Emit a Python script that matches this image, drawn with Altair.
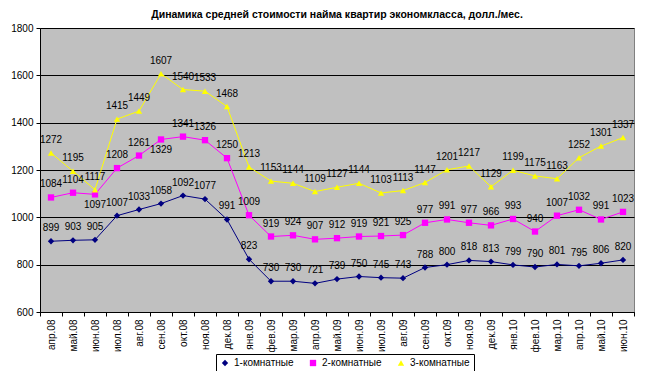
import altair as alt
import pandas as pd

months = ["апр.08", "май.08", "июн.08", "июл.08", "авг.08", "сен.08", "окт.08", "ноя.08", "дек.08",
          "янв.09", "фев.09", "мар.09", "апр.09", "май.09", "июн.09", "июл.09", "авг.09", "сен.09",
          "окт.09", "ноя.09", "дек.09", "янв.10", "фев.10", "мар.10", "апр.10", "май.10", "июн.10"]
one_room = [899, 903, 905, 1007, 1033, 1058, 1092, 1077, 991, 823, 730, 730, 721, 739, 750, 745, 743,
            788, 800, 818, 813, 799, 790, 801, 795, 806, 820]
two_room = [1084, 1104, 1097, 1208, 1261, 1329, 1341, 1326, 1250, 1009, 919, 924, 907, 912, 919, 921,
            925, 977, 991, 977, 966, 993, 940, 1007, 1032, 991, 1023]
three_room = [1272, 1195, 1117, 1415, 1449, 1607, 1540, 1533, 1468, 1213, 1153, 1144, 1109, 1127, 1144,
              1103, 1113, 1147, 1201, 1217, 1129, 1199, 1175, 1163, 1252, 1301, 1337]
series_names = ["1-комнатные", "2-комнатные", "3-комнатные"]
y_ticks = [600, 800, 1000, 1200, 1400, 1600, 1800]
# data labels that the reference shows beneath their point
labels_below = [("2-комнатные", "июн.08"), ("2-комнатные", "сен.08")]

rows = []
for name, vals in zip(series_names, [one_room, two_room, three_room]):
    for m, v in zip(months, vals):
        rows.append({"month": m, "value": v, "series": name,
                     "below": (name, m) in labels_below})
df = pd.DataFrame(rows)

FONT = "Liberation Sans"
COLORS = ["#000080", "#FF00FF", "#FFFF00"]

x_enc = alt.X("month:N", sort=months, title=None,
              scale=alt.Scale(type="band", paddingInner=0, paddingOuter=0),
              bandPosition=0.5,
              axis=alt.Axis(labelAngle=270, tickBand="extent", grid=False, domainColor="black",
                            tickColor="black", labelColor="black", labelFontSize=10,
                            labelFont=FONT, labelPadding=3, tickSize=4))
y_enc = alt.Y("value:Q", title=None,
              scale=alt.Scale(domain=[600, 1800], nice=False, zero=False),
              axis=alt.Axis(values=y_ticks, format="d", grid=True, gridColor="black", gridWidth=1,
                            domainColor="black", tickColor="black", labelColor="black",
                            labelFontSize=10, labelFont=FONT, tickSize=4, labelPadding=3))
color_enc = alt.Color("series:N", sort=series_names, title=None,
                      scale=alt.Scale(domain=series_names, range=COLORS))
shape_enc = alt.Shape("series:N", sort=series_names, title=None,
                      scale=alt.Scale(domain=series_names, range=["diamond", "square", "triangle-up"]))

base = alt.Chart(df).encode(x=x_enc, y=y_enc)

lines = base.mark_line(strokeWidth=1).encode(color=color_enc)
points = base.mark_point(filled=True, opacity=1, size=40).encode(color=color_enc, shape=shape_enc)
labels_up = base.transform_filter("!datum.below").mark_text(
    dy=-13, fontSize=10, font=FONT, color="black").encode(text=alt.Text("value:Q"))
labels_down = base.transform_filter("datum.below").mark_text(
    dy=11, fontSize=10, font=FONT, color="black").encode(text=alt.Text("value:Q"))

chart = alt.layer(lines, points, labels_up, labels_down).properties(
    width=594, height=284,
    autosize=alt.AutoSizeParams(type="none"),
    padding={"left": 32, "top": 20, "right": 8, "bottom": 59},
    title=alt.TitleParams("Динамика средней стоимости найма квартир экономкласса, долл./мес.",
                          font=FONT, fontSize=10.5, fontWeight="bold", color="black",
                          anchor="middle", offset=3),
    background="white",
).configure_view(
    fill="#C0C0C0", stroke="#808080", strokeWidth=1
).configure_legend(
    orient="none", legendX=176, legendY=326, direction="horizontal",
    strokeColor="black", fillColor="white", padding=4, labelFont=FONT, labelFontSize=10,
    labelColor="black", symbolSize=40, columnPadding=14, symbolStrokeWidth=0
)

chart.save("out.html", embed_options={"renderer": "svg", "actions": False})
